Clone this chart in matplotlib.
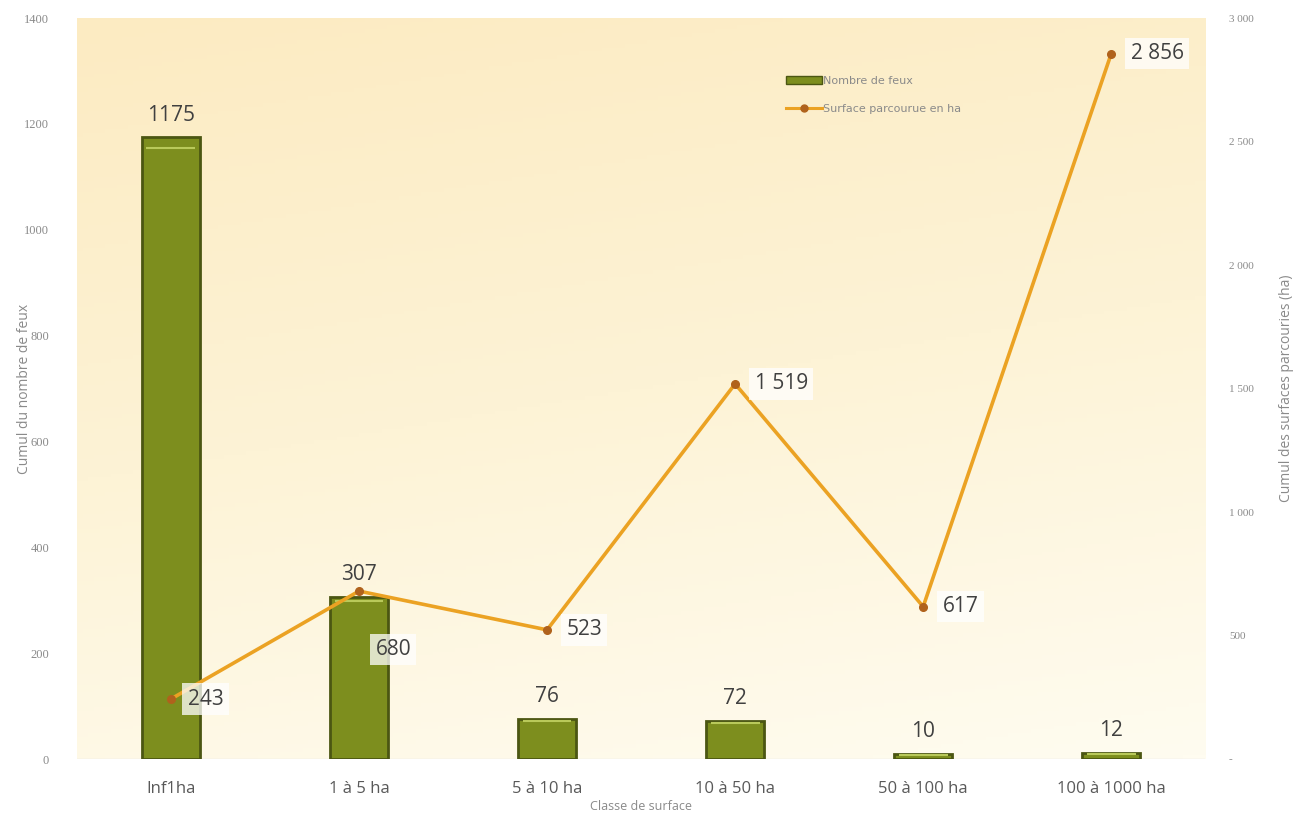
import numpy as np
import matplotlib.pyplot as plt
from matplotlib.colors import LinearSegmentedColormap
from matplotlib.lines import Line2D
from matplotlib.patches import Patch

classes = ["Inf1ha", "1 à 5 ha", "5 à 10 ha", "10 à 50 ha", "50 à 100 ha", "100 à 1000 ha"]
nb_feux = [1175, 307, 76, 72, 10, 12]
surface_ha = [243, 680, 523, 1519, 617, 2856]

left_ticks = [0, 200, 400, 600, 800, 1000, 1200, 1400]
right_ticks = [0, 500, 1000, 1500, 2000, 2500, 3000]

# décalage des étiquettes de la courbe (points)
label_offsets = [(12, 0), (12, -42), (14, 0), (14, 0), (14, 0), (14, 0)]

bar_color = "#7d8e1e"
bar_edge = "#4b5612"
line_color = "#eba223"
marker_color = "#b0621c"
txt_color = "#404040"
tick_color = "#8a8a8a"


def fmt_fr(v):
    return f"{v:,}".replace(",", "\u00a0")


fig = plt.figure(figsize=(13.03, 8.22), dpi=100)
ax = fig.add_axes([0.059, 0.0766, 0.866, 0.9014])
ax2 = ax.twinx()

# fond en dégradé (jaune en haut à gauche vers presque blanc en bas à droite)
cmap = LinearSegmentedColormap.from_list("fond", ["#fffcf0", "#fdf3d6", "#fcebc2"])
yy, xx = np.mgrid[0:1:200j, 0:1:200j]
grad = 0.8 * yy + 0.2 * (1 - xx)
ax.imshow(grad, extent=[0, 1, 0, 1], transform=ax.transAxes, origin="lower",
          cmap=cmap, aspect="auto", zorder=0)

x = np.arange(len(classes))
ax.bar(x, nb_feux, width=0.31, color=bar_color, edgecolor=bar_edge,
       linewidth=2.0, zorder=2)
# petit reflet clair en haut des barres
for xi, v in zip(x, nb_feux):
    ax.plot([xi - 0.13, xi + 0.13], [v * 0.985 - 3, v * 0.985 - 3],
            color="#b9c95a", lw=1.5, zorder=3, solid_capstyle="butt")
for xi, v in zip(x, nb_feux):
    ax.text(xi, v + 22, str(v), ha="center", va="bottom", fontsize=15,
            color=txt_color, family="Open Sans", zorder=5)

ax.set_xlim(-0.5, len(classes) - 0.5)
ax.set_ylim(0, 1400)
ax.set_yticks(left_ticks)
ax.set_yticklabels([str(t) for t in left_ticks], family="Liberation Serif",
                   fontsize=9, color=tick_color)
ax.set_xticks(x)
ax.set_xticklabels(classes, fontsize=12, color="#595959", family="Open Sans")
ax.tick_params(axis="y", length=0, pad=20)
ax.tick_params(axis="x", length=0, pad=16)
for s in ax.spines.values():
    s.set_visible(False)
ax.axhline(0, color="#e6e6e6", lw=1.0, zorder=1)
ax.set_ylabel("Cumul du nombre de feux", fontsize=10, color=tick_color,
              family="Open Sans", labelpad=-6)
ax.set_xlabel("Classe de surface", fontsize=9, color=tick_color,
              family="Open Sans", labelpad=2)

ax2.plot(x, surface_ha, color=line_color, lw=2.6, marker="o", markersize=5.5,
         markerfacecolor=marker_color, markeredgecolor=marker_color, zorder=4)
for xi, v, off in zip(x, surface_ha, label_offsets):
    ax2.annotate(fmt_fr(v), (xi, v), xytext=off, textcoords="offset points",
                 ha="left", va="center", fontsize=15, color=txt_color,
                 family="Open Sans", zorder=6,
                 bbox=dict(boxstyle="square,pad=0.25", fc="white", ec="none", alpha=0.75))
ax2.set_ylim(0, 3000)
ax2.set_yticks(right_ticks)
ax2.set_yticklabels(["-"] + [fmt_fr(t) for t in right_ticks[1:]],
                    family="Liberation Serif", fontsize=8, color=tick_color)
ax2.tick_params(axis="y", length=0, pad=17)
for s in ax2.spines.values():
    s.set_visible(False)
ax2.set_ylabel("Cumul des surfaces parcouries (ha)", fontsize=10, color=tick_color,
               family="Open Sans", labelpad=18)

handles = [Patch(facecolor=bar_color, edgecolor=bar_edge),
           Line2D([0], [0], color=line_color, lw=2.2, marker="o", markersize=5,
                  markerfacecolor=marker_color, markeredgecolor=marker_color)]
leg = ax2.legend(handles, ["Nombre de feux", "Surface parcourue en ha"],
                 loc="upper left", bbox_to_anchor=(0.62, 0.935), frameon=False,
                 fontsize=8, handlelength=3.2, handletextpad=0.1, labelspacing=1.6)
for t in leg.get_texts():
    t.set_color("#8a8a8a")

fig.savefig("out.png", dpi=100, facecolor="white")
